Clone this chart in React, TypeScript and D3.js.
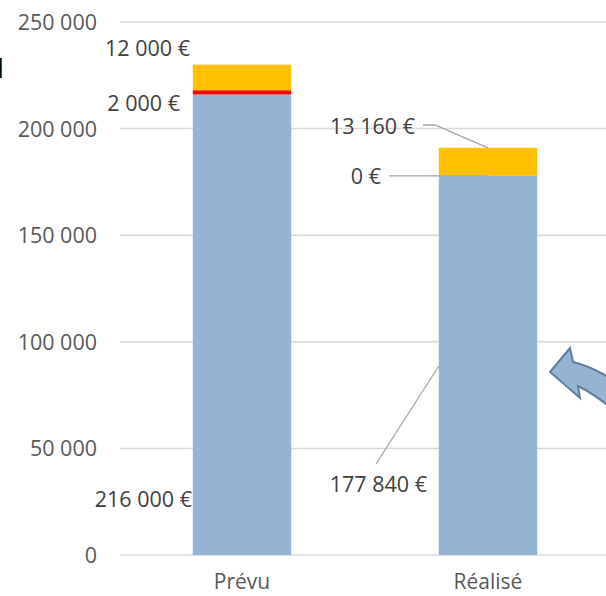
import React from "react";
import * as d3 from "d3";

const categories = ["Prévu", "Réalisé"];
const baseValues = [216000, 177840];
const redValues = [2000, 0];
const yellowValues = [12000, 13160];
const yTicks = [0, 50000, 100000, 150000, 200000, 250000];
const seriesColors = ["#95b3d2", "#ff0000", "#ffc000"];

const W = 606;
const H = 596;

const fmtTick = (v: number) => d3.format(",")(v).replace(/,/g, " ");
const fmtEuro = (v: number) => fmtTick(v) + " €";

export default function App() {
  const y = d3.scaleLinear().domain([0, 250000]).range([555, 22]);
  const x = d3.scaleBand().domain(categories).range([119, 611]).padding(0);
  const barW = x.bandwidth() / 2.5;
  const cx = (c: string) => (x(c) as number) + x.bandwidth() / 2;

  const series = [baseValues, redValues, yellowValues];
  const stacks = categories.map((c, i) => {
    let acc = 0;
    return series.map((s, k) => {
      const y0 = acc;
      acc += s[i];
      return { c, k, y0, y1: acc, v: s[i] };
    });
  });

  const font = "'Open Sans', sans-serif";
  const labelColor = "#404040";
  const leader = "#a6a6a6";

  const cP = cx("Prévu");
  const cR = cx("Réalisé");

  const labels = [
    { text: fmtEuro(yellowValues[0]), x: cP - 52, y: 56 },
    { text: fmtEuro(redValues[0]), x: cP - 62, y: 111 },
    { text: fmtEuro(baseValues[0]), x: cP - 50, y: 507 },
    { text: fmtEuro(yellowValues[1]), x: cR - 73, y: 134 },
    { text: fmtEuro(redValues[1]), x: cR - 107, y: 184 },
    { text: fmtEuro(baseValues[1]), x: cR - 61, y: 492 },
  ];

  const yTopR = y(baseValues[1] + redValues[1] + yellowValues[1]);
  const yBaseR = y(baseValues[1]);

  return (
    <svg
      width={W}
      height={H}
      style={{ position: "absolute", left: 0, top: 0, background: "#fff" }}
      fontFamily={font}
    >
      <rect x={0} y={0} width={W} height={H} fill="#fff" />
      <text x={4} y={78} fontSize={26} fill="#000" textAnchor="end" fontFamily="'DejaVu Sans', sans-serif">
        d
      </text>
      {yTicks.map((t) => (
        <g key={t}>
          <line x1={120} x2={W} y1={y(t)} y2={y(t)} stroke="#d9d9d9" strokeWidth={1.5} />
          <text x={97} y={y(t) + 8} textAnchor="end" fontSize={21.5} fill="#595959">
            {fmtTick(t)}
          </text>
        </g>
      ))}
      {stacks.map((st) =>
        st.map((d) =>
          d.v > 0 ? (
            <rect
              key={d.c + d.k}
              x={cx(d.c) - barW / 2}
              width={barW}
              y={y(d.y1)}
              height={y(d.y0) - y(d.y1)}
              fill={seriesColors[d.k]}
            />
          ) : null
        )
      )}
      {categories.map((c) => (
        <text key={c} x={cx(c)} y={589} textAnchor="middle" fontSize={21} fill="#595959">
          {c}
        </text>
      ))}
      <polyline
        points={`${cR - 65},125 ${cR - 53},125 ${cR},${yTopR}`}
        fill="none"
        stroke={leader}
        strokeWidth={1.3}
      />
      <line x1={cR - 99} x2={cR} y1={yBaseR} y2={yBaseR} stroke={leader} strokeWidth={1.3} />
      <line x1={cR - 112} y1={464} x2={cR - barW / 2} y2={366} stroke={leader} strokeWidth={1.3} />
      {labels.map((l, i) => (
        <text key={i} x={l.x} y={l.y} textAnchor="end" fontSize={21.5} fill={labelColor}>
          {l.text}
        </text>
      ))}
      <path
        d="M550,372 L570,348 L573,362 C590,366 615,378 640,400 L632,428 C615,410 598,396 578,386 L580,398 Z"
        fill="#95b3d2"
        stroke="#5f7f9c"
        strokeWidth={2}
        strokeLinejoin="miter"
      />
    </svg>
  );
}
